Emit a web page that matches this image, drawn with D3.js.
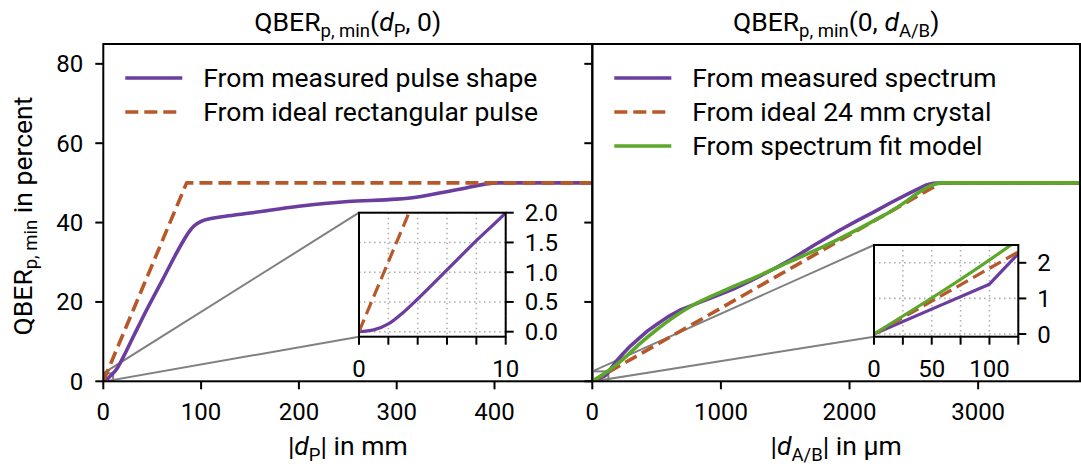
<!DOCTYPE html>
<html><head><meta charset="utf-8">
<script src="https://cdn.jsdelivr.net/npm/d3@7"></script>
<style>body{margin:0;background:#fff}text{font-family:Roboto,"DejaVu Sans",sans-serif;fill:#000}</style>
</head><body><svg id="c" width="1081" height="469"></svg>
<script>
// ---------- data ----------
const yTicks = [0, 20, 40, 60, 80];
const leftXTicks = [0, 100, 200, 300, 400];
const rightXTicks = [0, 1000, 2000, 3000];
const leftInsetXTicks = [0, 2, 4, 6, 8, 10];
const leftInsetXLabels = [0, 10];
const leftInsetYTicks = [0, 0.5, 1.0, 1.5, 2.0];
const rightInsetXTicks = [0, 25, 50, 75, 100, 125];
const rightInsetXLabels = [0, 50, 100];
const rightInsetYTicks = [0, 1, 2];

// left panel: |d_P| in mm vs QBER in percent
const pulseMeasured = [[0,0],[1,0.03],[2,0.13],[3,0.32],[4,0.55],[6,1.04],[8,1.53],[10,2.0],[12,2.55],[15,3.6],[20,5.9],[30,10.9],[40,15.9],[60,25.3],[80,34.6],[88,37.8],[93,39.2],[100,40.3],[110,41.0],[125,41.6],[150,42.4],[200,44.1],[250,45.3],[300,45.9],[320,46.4],[360,48.2],[404,50],[500,50]];
const pulseIdeal = [[0,0],[85.2,50],[500,50]];
// right panel: |d_A/B| in um vs QBER in percent
const specMeasured = [[0,0],[50,0.7],[100,1.4],[125,2.26],[180,4.8],[240,7.0],[300,9.0],[370,11.0],[430,12.7],[500,14.3],[590,16.3],[680,17.9],[820,19.7],[970,21.6],[1100,23.3],[1230,25.3],[1380,27.8],[1540,30.6],[1730,34.4],[1930,38.2],[2060,40.5],[2180,42.5],[2320,45.0],[2470,47.5],[2590,49.4],[2650,49.9],[2729,50],[3790,50]];
const specIdeal = [[0,0],[2710,50],[3790,50]];
const specFit = [[0,0],[125,2.65],[240,5.6],[370,9.5],[500,13.0],[760,18.8],[1020,22.8],[1280,26.4],[1540,30.2],[1800,34.0],[2060,38.2],[2320,42.8],[2729,50],[3790,50]];

const leftLegend = ["From measured pulse shape", "From ideal rectangular pulse"];
const rightLegend = ["From measured spectrum", "From ideal 24 mm crystal", "From spectrum fit model"];

// ---------- styles ----------
const PURPLE = "#6a3d9f", ORANGE = "#b8582a", GREEN = "#5da72b", GRAY = "#808080";
const FS = 24, LFS = 26.5, SFS = 18.5;

const svg = d3.select("#c");
const TOP = 44, BOT = 381.3;
const y = d3.scaleLinear().domain([0, 85]).range([BOT, TOP]);
const xL = d3.scaleLinear().domain([0, 500]).range([103.3, 592.3]);
const xR = d3.scaleLinear().domain([0, 3792]).range([592.3, 1080]);

function richText(g, x, yy, parts, anchor, transform) {
  const t = g.append("text").attr("x", x).attr("y", yy).attr("font-size", LFS)
    .attr("text-anchor", anchor || "start");
  if (transform) t.attr("transform", transform);
  let sub = false;
  parts.forEach(p => {
    const ts = t.append("tspan").text(p.t);
    if (p.it) ts.attr("font-style", "italic");
    if (p.sub && !sub) { ts.attr("font-size", SFS).attr("dy", 5.5); sub = true; }
    else if (p.sub) { ts.attr("font-size", SFS); }
    else if (!p.sub && sub) { ts.attr("dy", -5.5); sub = false; }
  });
  return t;
}

let clipId = 0;
function clip(x0, y0, w, h) {
  const id = "cl" + (clipId++);
  svg.append("clipPath").attr("id", id).append("rect").attr("x", x0).attr("y", y0).attr("width", w).attr("height", h);
  return "url(#" + id + ")";
}

function drawSeries(g, data, xs, ys, color, dashed, width, curve) {
  g.append("path").datum(data)
    .attr("d", d3.line().x(d => xs(d[0])).y(d => ys(d[1])).curve(curve || d3.curveLinear))
    .attr("fill", "none").attr("stroke", color).attr("stroke-width", width)
    .attr("stroke-dasharray", dashed ? "13,6" : null)
    .attr("stroke-linecap", dashed ? "butt" : "round").attr("stroke-linejoin", "round");
}

function panel(xs, xTicks, series, inset, legend, title, xlabel, showYLabels) {
  const [x0, x1] = xs.range();
  const ix = inset.x, iy = inset.y;
  const [ix0, ix1] = ix.range();
  const [iyb, iyt] = iy.range();
  const rx0 = xs(ix.domain()[0]), rx1 = xs(ix.domain()[1]);
  const ry0 = y(iy.domain()[0]), ry1 = y(iy.domain()[1]);
  const cg = svg.append("g").attr("clip-path", clip(x0, TOP, x1 - x0, BOT - TOP));
  cg.append("rect").attr("x", rx0).attr("y", ry1).attr("width", rx1 - rx0).attr("height", ry0 - ry1)
    .attr("fill", "none").attr("stroke", GRAY).attr("stroke-width", 2);
  cg.append("line").attr("x1", rx0).attr("y1", ry1).attr("x2", ix0).attr("y2", iyt).attr("stroke", GRAY).attr("stroke-width", 2);
  cg.append("line").attr("x1", rx0).attr("y1", ry0).attr("x2", ix0).attr("y2", iyb).attr("stroke", GRAY).attr("stroke-width", 2);
  const dg = svg.append("g").attr("clip-path", clip(x0, TOP, x1 - x0, BOT - TOP));
  series.forEach(s => drawSeries(dg, s.data, xs, y, s.color, s.dashed, 3.6, s.curve));
  svg.append("rect").attr("x", x0).attr("y", TOP).attr("width", x1 - x0).attr("height", BOT - TOP)
    .attr("fill", "none").attr("stroke", "#000").attr("stroke-width", 2);
  const gx = svg.append("g");
  xTicks.forEach(v => {
    gx.append("line").attr("x1", xs(v)).attr("x2", xs(v)).attr("y1", BOT).attr("y2", BOT + 8).attr("stroke", "#000").attr("stroke-width", 2);
    gx.append("text").attr("x", xs(v)).attr("y", 420).attr("font-size", FS).attr("text-anchor", "middle").text(v);
  });
  yTicks.forEach(v => {
    svg.append("line").attr("x1", x0 - 8).attr("x2", x0).attr("y1", y(v)).attr("y2", y(v)).attr("stroke", "#000").attr("stroke-width", 2);
    if (showYLabels) svg.append("text").attr("x", x0 - 20).attr("y", y(v) + 8.5).attr("font-size", FS).attr("text-anchor", "end").text(v);
  });
  const cx = (x0 + x1) / 2;
  richText(svg, cx, 31, title, "middle");
  richText(svg, cx, 455, xlabel, "middle");
  legend.forEach((L, i) => {
    const ly = 78 + i * 34;
    svg.append("line").attr("x1", x0 + 22).attr("x2", x0 + 79).attr("y1", ly).attr("y2", ly)
      .attr("stroke", series[i].color).attr("stroke-width", 3.6)
      .attr("stroke-dasharray", series[i].dashed ? "13,6" : null);
    svg.append("text").attr("x", x0 + 100).attr("y", ly + 9).attr("font-size", LFS).text(L);
  });
  svg.append("rect").attr("x", ix0).attr("y", iyt).attr("width", ix1 - ix0).attr("height", iyb - iyt).attr("fill", "#fff");
  const grid = svg.append("g").attr("stroke", "#b0b0b0").attr("stroke-width", 1.6).attr("stroke-dasharray", "1.6,3.4");
  inset.xTicks.forEach(v => grid.append("line").attr("x1", ix(v)).attr("x2", ix(v)).attr("y1", iyt).attr("y2", iyb));
  inset.yTicks.forEach(v => grid.append("line").attr("x1", ix0).attr("x2", ix1).attr("y1", iy(v)).attr("y2", iy(v)));
  const ig = svg.append("g").attr("clip-path", clip(ix0, iyt, ix1 - ix0, iyb - iyt));
  series.forEach(s => drawSeries(ig, s.data, ix, iy, s.color, s.dashed, 3.2, s.curve));
  svg.append("rect").attr("x", ix0).attr("y", iyt).attr("width", ix1 - ix0).attr("height", iyb - iyt)
    .attr("fill", "none").attr("stroke", "#000").attr("stroke-width", 2);
  inset.xTicks.forEach(v => svg.append("line").attr("x1", ix(v)).attr("x2", ix(v)).attr("y1", iyb).attr("y2", iyb + 8).attr("stroke", "#000").attr("stroke-width", 2));
  inset.xLabels.forEach(v => svg.append("text").attr("x", ix(v)).attr("y", 377).attr("font-size", FS).attr("text-anchor", "middle").text(v));
  inset.yTicks.forEach(v => {
    svg.append("line").attr("x1", ix1).attr("x2", ix1 + 8).attr("y1", iy(v)).attr("y2", iy(v)).attr("stroke", "#000").attr("stroke-width", 2);
    svg.append("text").attr("x", ix1 + 19).attr("y", iy(v) + 8.5).attr("font-size", FS).text(inset.fmt(v));
  });
}

panel(xL, leftXTicks,
  [{data: pulseMeasured, color: PURPLE, curve: d3.curveMonotoneX}, {data: pulseIdeal, color: ORANGE, dashed: true}],
  {x: d3.scaleLinear().domain([0, 10]).range([359, 505.7]),
   y: d3.scaleLinear().domain([-0.084, 2.0]).range([336.7, 212.7]),
   xTicks: leftInsetXTicks, xLabels: leftInsetXLabels, yTicks: leftInsetYTicks, fmt: d3.format(".1f")},
  leftLegend,
  [{t:"QBER"},{t:"p, min",sub:true},{t:"("},{t:"d",it:true},{t:"P",sub:true},{t:", 0)"}],
  [{t:"|"},{t:"d",it:true},{t:"P",sub:true},{t:"| in mm"}], true);

panel(xR, rightXTicks,
  [{data: specMeasured, color: PURPLE}, {data: specIdeal, color: ORANGE, dashed: true}, {data: specFit, color: GREEN, curve: d3.curveMonotoneX}],
  {x: d3.scaleLinear().domain([0, 125]).range([874, 1018.3]),
   y: d3.scaleLinear().domain([-0.075, 2.5]).range([336.7, 245]),
   xTicks: rightInsetXTicks, xLabels: rightInsetXLabels, yTicks: rightInsetYTicks, fmt: d3.format("d")},
  rightLegend,
  [{t:"QBER"},{t:"p, min",sub:true},{t:"(0, "},{t:"d",it:true},{t:"A/B",sub:true},{t:")"}],
  [{t:"|"},{t:"d",it:true},{t:"A/B",sub:true},{t:"| in µm"}], false);

richText(svg, 0, 0, [{t:"QBER"},{t:"p, min",sub:true},{t:" in percent"}], "middle", "translate(31.5,216) rotate(-90)");
</script></body></html>
